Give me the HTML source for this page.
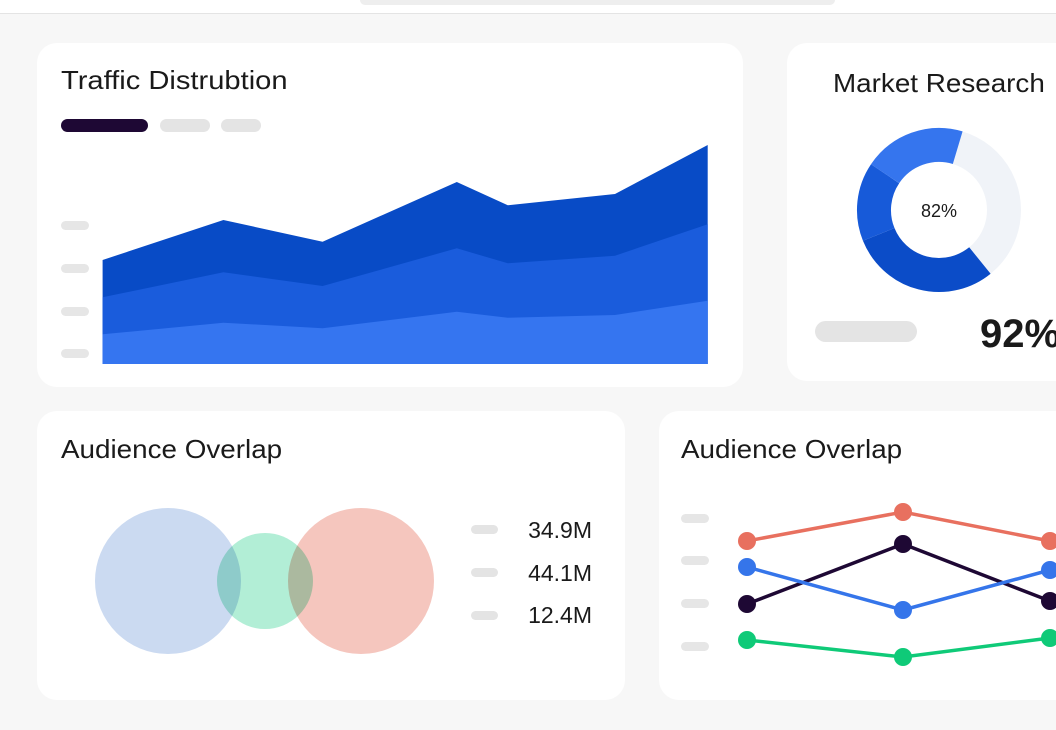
<!DOCTYPE html>
<html><head><style>
body{margin:0;width:1056px;height:730px;overflow:hidden;background:#f7f7f7;font-family:"Liberation Sans",sans-serif;position:relative}
.card{position:absolute;background:#fff;border-radius:20px}
.t{position:absolute;font-size:26px;color:#1a1a1a;white-space:nowrap;transform-origin:left center;transform:scaleX(1.07)}
</style></head><body>
<div style="position:absolute;left:0;top:0;width:1056px;height:13px;background:#fff;border-bottom:1px solid #e4e4e4"></div>
<div style="position:absolute;left:360px;top:0;width:475px;height:5px;background:#eee;border-radius:0 0 6px 6px"></div>
<div class="card" style="left:37px;top:43px;width:706px;height:344px"></div>
<div class="card" style="left:787px;top:43px;width:290px;height:338px"></div>
<div class="card" style="left:37px;top:411px;width:588px;height:289px"></div>
<div class="card" style="left:659px;top:411px;width:420px;height:289px"></div>
<div class="t" style="left:61px;top:65px;transform:scaleX(1.12)">Traffic Distrubtion</div>
<div class="t" style="left:833px;top:68px">Market Research</div>
<div class="t" style="left:61px;top:434px">Audience Overlap</div>
<div class="t" style="left:681px;top:434px">Audience Overlap</div>
<div class="t" style="left:980px;top:312px;font-size:40px;font-weight:bold;transform:none">92%</div>
<svg width="1056" height="730" style="position:absolute;left:0;top:0">
<rect x="61" y="119" width="87" height="13" rx="6.5" fill="#1e0834"/>
<rect x="160" y="119" width="50" height="13" rx="6.5" fill="#e4e4e4"/>
<rect x="221" y="119" width="40" height="13" rx="6.5" fill="#e4e4e4"/>
<g fill="#e6e6e6"><rect x="61" y="221" width="28" height="9" rx="4.5"/><rect x="61" y="264" width="28" height="9" rx="4.5"/><rect x="61" y="307" width="28" height="9" rx="4.5"/><rect x="61" y="349" width="28" height="9" rx="4.5"/></g>
<polygon fill="#084bc6" points="102.6,260 223.4,220 322.6,241.7 456.8,182 507.8,205.3 615,194 707.7,145 707.7,364 102.6,364"/>
<polygon fill="#1a5cdc" points="102.6,297.3 223.4,272.3 322.6,286 456.8,248.3 507.8,263.3 615,255.7 707.7,224.3 707.7,364 102.6,364"/>
<polygon fill="#3575f0" points="102.6,334.3 223.4,322.7 322.6,328.3 456.8,311.7 507.8,317.7 615,315 707.7,300.7 707.7,364 102.6,364"/>
<circle cx="939" cy="210" r="65" fill="none" stroke="#f0f3f8" stroke-width="34"/>
<path d="M979.9,260.5 A65,65 0 0 1 878.7,234.4" fill="none" stroke="#0b4cc8" stroke-width="34"/>
<path d="M878.7,234.4 A65,65 0 0 1 885.1,173.7" fill="none" stroke="#175ad9" stroke-width="34"/>
<path d="M885.1,173.7 A65,65 0 0 1 957.7,147.7" fill="none" stroke="#3575ee" stroke-width="34"/>
<text x="939" y="217" font-size="18" text-anchor="middle" fill="#1a1a1a" font-family="Liberation Sans">82%</text>
<rect x="815" y="321" width="102" height="21" rx="10.5" fill="#e4e4e4"/>
<g style="mix-blend-mode:multiply">
<ellipse cx="168" cy="581" rx="73" ry="73" fill="#cbdaf1"/>
<circle cx="265" cy="581" r="48" fill="#b2eed6" style="mix-blend-mode:multiply"/>
<ellipse cx="361" cy="581" rx="73" ry="73" fill="#f5c6be" style="mix-blend-mode:multiply"/>
</g>
<g fill="#e4e4e4"><rect x="471" y="525" width="27" height="9" rx="4.5"/><rect x="471" y="568" width="27" height="9" rx="4.5"/><rect x="471" y="611" width="27" height="9" rx="4.5"/></g>
<g font-size="23" text-anchor="end" fill="#1a1a1a" font-family="Liberation Sans"><text x="592" y="538">34.9M</text><text x="592" y="581">44.1M</text><text x="592" y="623">12.4M</text></g>
<g fill="#e6e6e6"><rect x="681" y="514" width="28" height="9" rx="4.5"/><rect x="681" y="556" width="28" height="9" rx="4.5"/><rect x="681" y="599" width="28" height="9" rx="4.5"/><rect x="681" y="642" width="28" height="9" rx="4.5"/></g>
<g stroke-width="3.5" fill="none">
<polyline stroke="#e8705f" points="747,541 903,512 1050,541"/>
<polyline stroke="#1e0834" points="747,604 903,544 1050,601"/>
<polyline stroke="#3575ea" points="747,567 903,610 1050,570"/>
<polyline stroke="#0fca78" points="747,640 903,657 1050,638"/>
</g>
<g fill="#e8705f"><circle cx="747" cy="541" r="9"/><circle cx="903" cy="512" r="9"/><circle cx="1050" cy="541" r="9"/></g>
<g fill="#1e0834"><circle cx="747" cy="604" r="9"/><circle cx="903" cy="544" r="9"/><circle cx="1050" cy="601" r="9"/></g>
<g fill="#3575ea"><circle cx="747" cy="567" r="9"/><circle cx="903" cy="610" r="9"/><circle cx="1050" cy="570" r="9"/></g>
<g fill="#0fca78"><circle cx="747" cy="640" r="9"/><circle cx="903" cy="657" r="9"/><circle cx="1050" cy="638" r="9"/></g>
</svg>
</body></html>
